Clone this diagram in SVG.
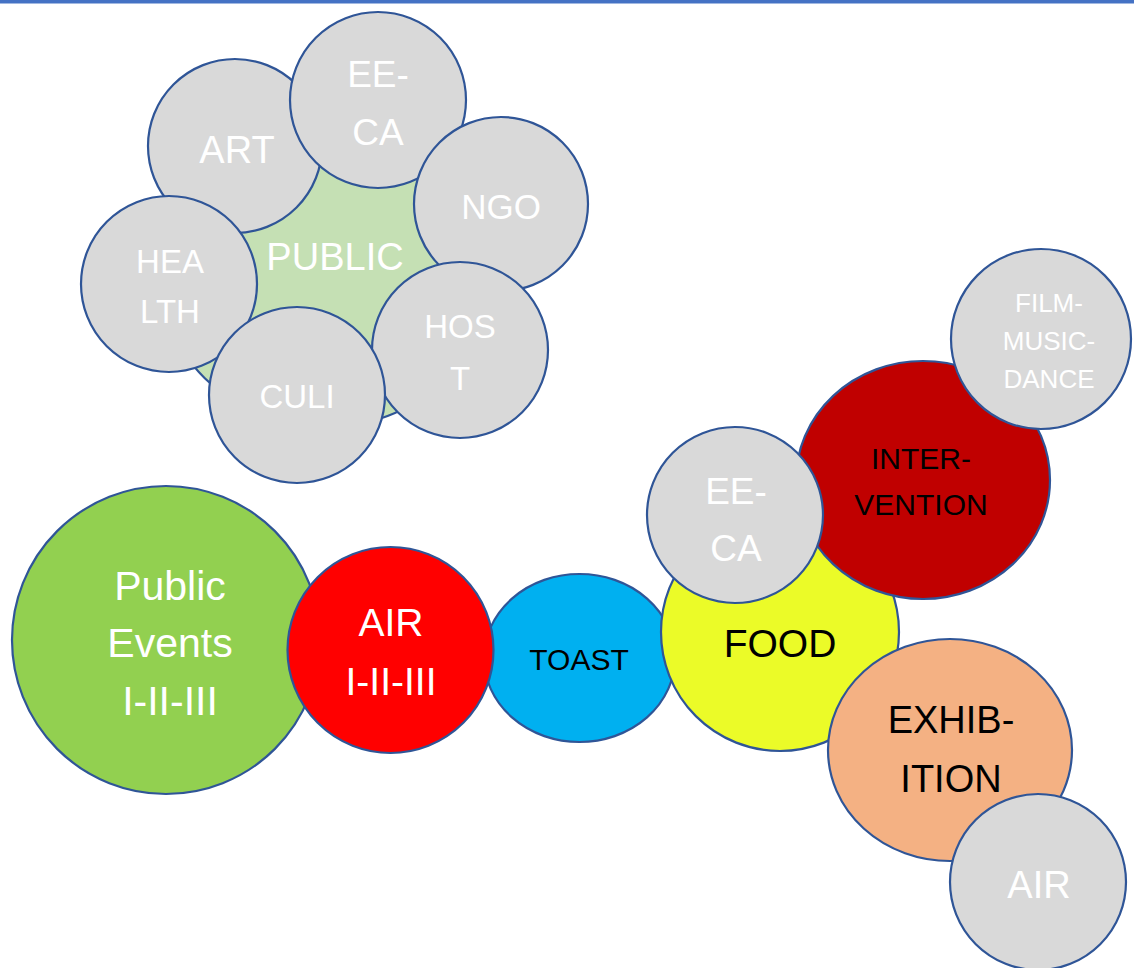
<svg xmlns="http://www.w3.org/2000/svg" width="1134" height="968" viewBox="0 0 1134 968">
<style>
.c{stroke:#2F5597;stroke-width:2.2}
.g{fill:#D9D9D9}
.t{font-family:"Liberation Sans",Arial,sans-serif;text-anchor:middle}
.w{fill:#FFFFFF}
.k{fill:#000000}
</style>
<rect x="0" y="0" width="1134" height="968" fill="#FFFFFF"/>
<rect x="0" y="0" width="1134" height="3.5" fill="#4472C4"/>
<g id="public">
<circle class="c" cx="325" cy="258" r="170" fill="#C5E0B4"/>
<text class="t w" x="335" y="270" font-size="38">PUBLIC</text>
</g>
<g id="art">
<circle class="c g" cx="235" cy="146" r="87"/>
<text class="t w" x="237" y="163" font-size="38">ART</text>
</g>
<g id="eeca1">
<circle class="c g" cx="378" cy="100" r="88"/>
<text class="t w" x="378" y="87" font-size="37">EE-</text>
<text class="t w" x="378" y="145" font-size="37">CA</text>
</g>
<g id="ngo">
<circle class="c g" cx="501" cy="204" r="87"/>
<text class="t w" x="501" y="219" font-size="35">NGO</text>
</g>
<g id="host">
<circle class="c g" cx="460" cy="350" r="88"/>
<text class="t w" x="460" y="338" font-size="33">HOS</text>
<text class="t w" x="460" y="390" font-size="33">T</text>
</g>
<g id="health">
<circle class="c g" cx="169" cy="284" r="88"/>
<text class="t w" x="170" y="273" font-size="33">HEA</text>
<text class="t w" x="170" y="323" font-size="33">LTH</text>
</g>
<g id="culi">
<circle class="c g" cx="297" cy="395" r="88"/>
<text class="t w" x="297" y="408" font-size="33">CULI</text>
</g>
<g id="public-events">
<circle class="c" cx="166" cy="640" r="154" fill="#92D050"/>
<text class="t w" x="170" y="600" font-size="41">Public</text>
<text class="t w" x="170" y="657" font-size="41">Events</text>
<text class="t w" x="170" y="715" font-size="41">I-II-III</text>
</g>
<g id="toast">
<ellipse class="c" cx="579.5" cy="658" rx="95.5" ry="84" fill="#00B0F0"/>
<text class="t k" x="579" y="670" font-size="30">TOAST</text>
</g>
<g id="air-iii">
<circle class="c" cx="390.5" cy="650" r="103" fill="#FF0000"/>
<text class="t w" x="391" y="636" font-size="39">AIR</text>
<text class="t w" x="391" y="695" font-size="39">I-II-III</text>
</g>
<g id="food">
<circle class="c" cx="780" cy="632" r="119" fill="#EBFB28"/>
<text class="t k" x="780" y="657" font-size="39">FOOD</text>
</g>
<g id="intervention">
<ellipse class="c" cx="923" cy="480" rx="127" ry="119" fill="#C00000"/>
<text class="t k" x="921" y="469" font-size="30">INTER-</text>
<text class="t k" x="921" y="515" font-size="30">VENTION</text>
</g>
<g id="eeca2">
<circle class="c g" cx="735" cy="515" r="88"/>
<text class="t w" x="736" y="504" font-size="37">EE-</text>
<text class="t w" x="736" y="561" font-size="37">CA</text>
</g>
<g id="film">
<circle class="c g" cx="1041" cy="339" r="90"/>
<text class="t w" x="1049" y="312" font-size="26">FILM-</text>
<text class="t w" x="1049" y="350" font-size="26">MUSIC-</text>
<text class="t w" x="1049" y="388" font-size="26">DANCE</text>
</g>
<g id="exhibition">
<ellipse class="c" cx="950" cy="750" rx="122" ry="111" fill="#F4B183"/>
<text class="t k" x="951" y="733" font-size="38">EXHIB-</text>
<text class="t k" x="951" y="792" font-size="38">ITION</text>
</g>
<g id="air">
<circle class="c g" cx="1038" cy="882" r="88"/>
<text class="t w" x="1039" y="898" font-size="38">AIR</text>
</g>
<g id="connectors"/>
</svg>
